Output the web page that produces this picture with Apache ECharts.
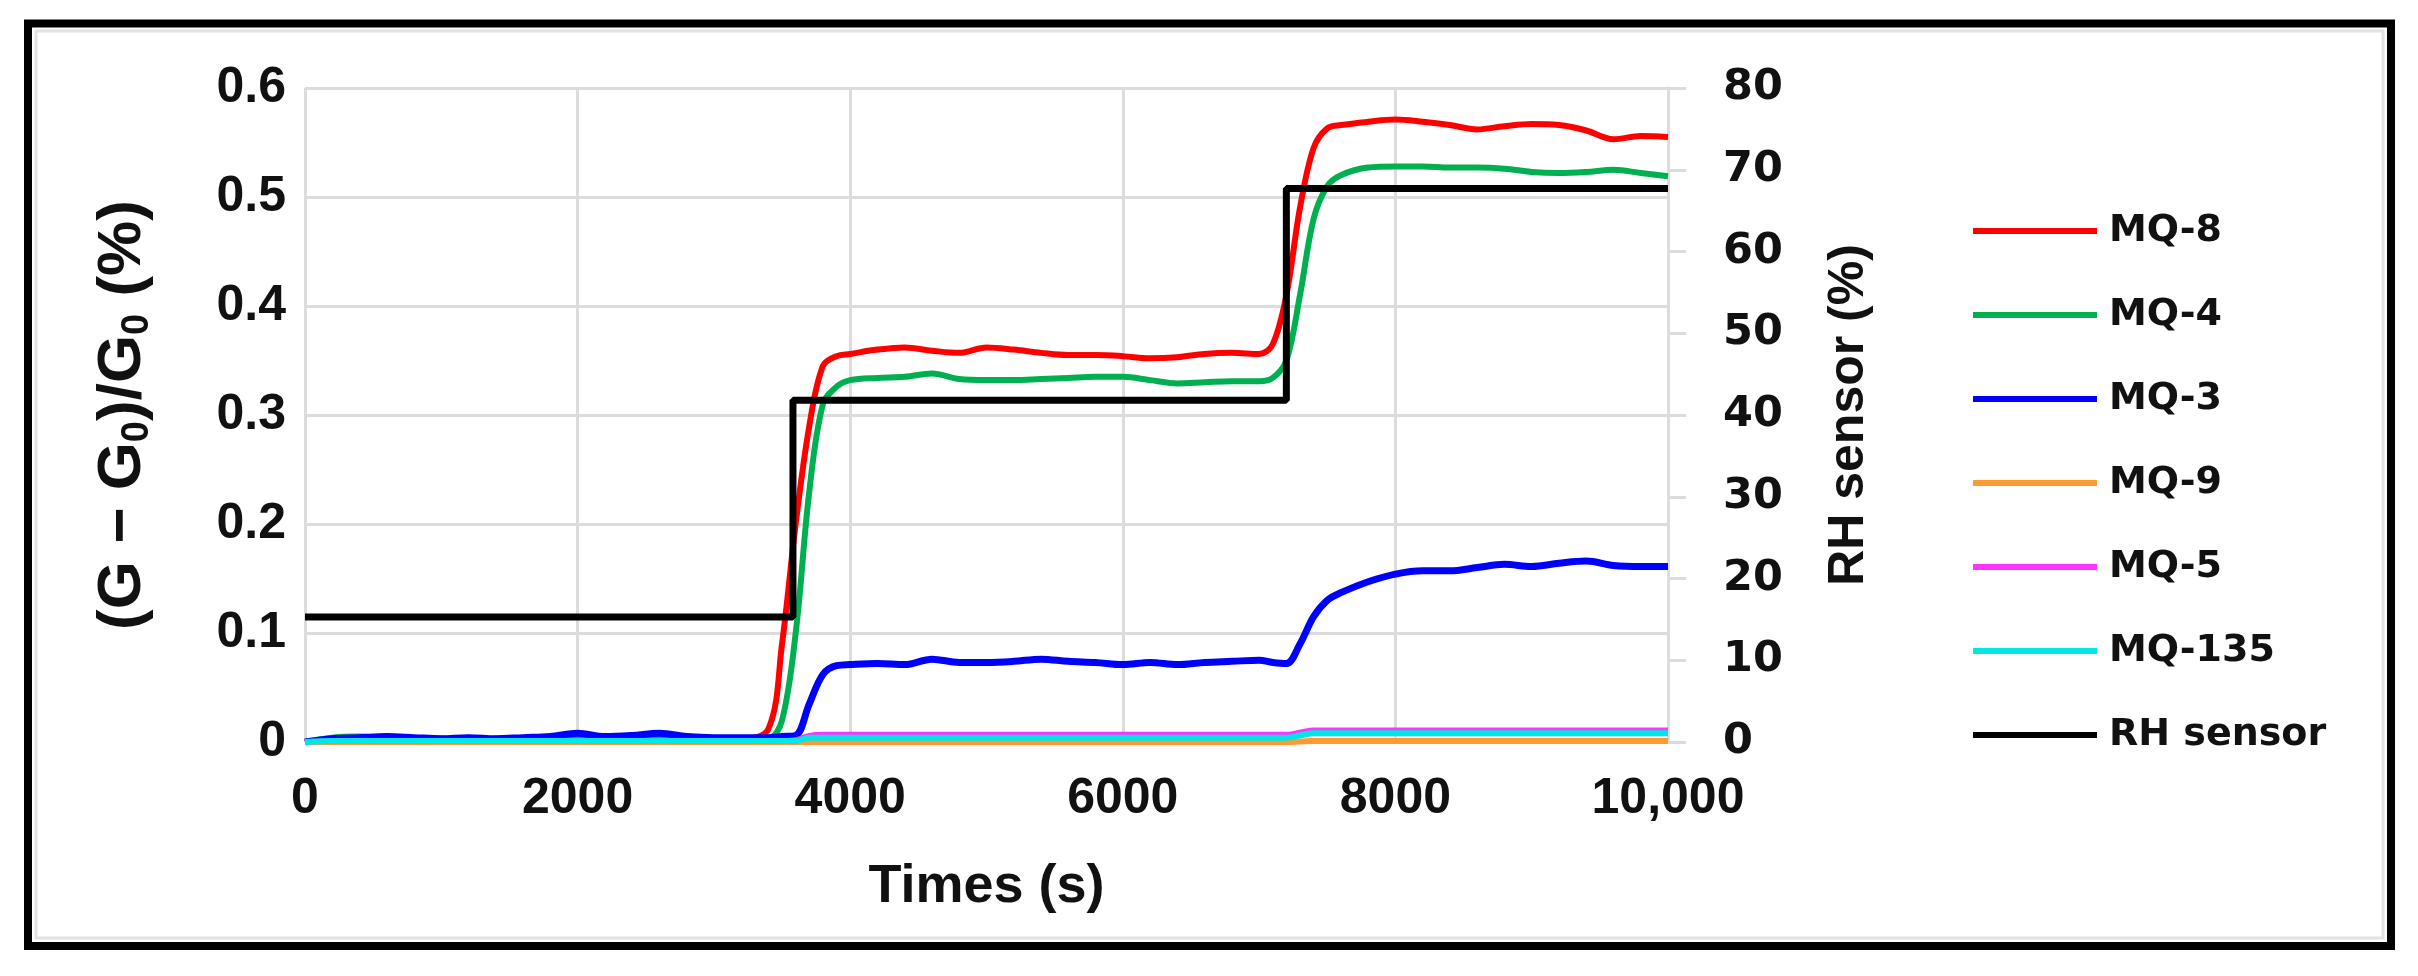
<!DOCTYPE html>
<html>
<head>
<meta charset="utf-8">
<script src="https://cdn.jsdelivr.net/npm/echarts@6/dist/echarts.min.js"></script>
<style>
html,body{margin:0;padding:0;background:#fff;}
#chart{width:2418px;height:976px;}
</style>
</head>
<body>
<div id="chart"></div>
<script>
// Time samples (s)
const times = [0,200,400,600,800,1000,1200,1400,1600,1800,2000,2200,2400,2600,2800,3000,3200,3400,3500,3600,3700,3800,3900,4000,4200,4400,4600,4800,5000,5200,5400,5600,5800,6000,6200,6400,6600,6800,7000,7100,7200,7300,7400,7500,7600,7800,8000,8200,8400,8600,8800,9000,9200,9400,9600,9800,10000];

const mq8 = [0,0.003,0.004,0.003,0.002,0.003,0.002,0.003,0.003,0.004,0.006,0.004,0.004,0.006,0.004,0.003,0.003,0.012,0.09,0.2,0.29,0.345,0.354,0.356,0.36,0.362,0.359,0.357,0.362,0.36,0.357,0.355,0.355,0.354,0.352,0.353,0.356,0.357,0.356,0.365,0.41,0.49,0.545,0.563,0.566,0.569,0.571,0.569,0.566,0.562,0.565,0.567,0.566,0.561,0.553,0.556,0.555];
const mq4 = [0,0.004,0.005,0.003,0.002,0.003,0.003,0.002,0.003,0.003,0.004,0.003,0.003,0.004,0.003,0.002,0.002,0.003,0.02,0.1,0.23,0.31,0.326,0.332,0.334,0.335,0.338,0.333,0.332,0.332,0.333,0.334,0.335,0.335,0.332,0.329,0.33,0.331,0.331,0.334,0.35,0.41,0.48,0.51,0.52,0.527,0.528,0.528,0.527,0.527,0.526,0.523,0.522,0.523,0.525,0.522,0.519];
const mq3 = [0,0.003,0.004,0.005,0.004,0.003,0.004,0.003,0.004,0.005,0.008,0.005,0.006,0.008,0.005,0.004,0.004,0.004,0.005,0.006,0.035,0.062,0.07,0.071,0.072,0.071,0.076,0.073,0.073,0.074,0.076,0.074,0.073,0.071,0.073,0.071,0.073,0.074,0.075,0.073,0.072,0.09,0.115,0.13,0.137,0.147,0.154,0.157,0.157,0.16,0.163,0.161,0.164,0.166,0.162,0.161,0.161];
const mq9 = [0,0,0,0,0,0,0,0,0,0,0,0,0,0,0,0,0,0,0,0,0,0,0,0,0,0,0,0,0,0,0,0,0,0,0,0,0,0,0,0,0,0.0005,0.001,0.001,0.001,0.001,0.001,0.001,0.001,0.001,0.001,0.001,0.001,0.001,0.001,0.001,0.001];
const mq5 = [0,0.001,0.001,0.001,0.001,0.001,0.001,0.001,0.001,0.001,0.001,0.001,0.001,0.001,0.001,0.001,0.001,0.001,0.001,0.002,0.006,0.007,0.007,0.007,0.007,0.007,0.007,0.007,0.007,0.007,0.007,0.007,0.007,0.007,0.007,0.007,0.007,0.007,0.007,0.007,0.007,0.009,0.011,0.011,0.011,0.011,0.011,0.011,0.011,0.011,0.011,0.011,0.011,0.011,0.011,0.011,0.011];
const mq135 = [0,0.001,0.001,0.001,0.001,0.001,0.001,0.001,0.001,0.001,0.001,0.001,0.001,0.001,0.001,0.001,0.001,0.001,0.001,0.001,0.004,0.004,0.004,0.004,0.004,0.004,0.004,0.004,0.004,0.004,0.004,0.004,0.004,0.004,0.004,0.004,0.004,0.004,0.004,0.004,0.004,0.006,0.008,0.008,0.008,0.008,0.008,0.008,0.008,0.008,0.008,0.008,0.008,0.008,0.008,0.008,0.008];

// RH sensor (step) on right axis
const rhTimes = [0,3580,3580,7200,7200,10000];
const rhValues = [15.3,15.3,41.8,41.8,67.7,67.7];

const seriesNames = ['MQ-8','MQ-4','MQ-3','MQ-9','MQ-5','MQ-135','RH sensor'];
const seriesColors = ['#ff0000','#00b050','#0000ff','#ff9a33','#ff33ff','#00e5e5','#000000'];
const seriesValues = [mq8,mq4,mq3,mq9,mq5,mq135];
const seriesWidths = [6,6,7,6,5,6];

const pairs = (xs, ys) => xs.map((x,i)=>[x, ys[i]]);

const series = seriesValues.map((vals,i)=>({
  name: seriesNames[i],
  type: 'line',
  data: pairs(times, vals),
  showSymbol: false,
  smooth: 0.35,
  lineStyle: {color: seriesColors[i], width: seriesWidths[i]},
  itemStyle: {color: seriesColors[i]},
  z: 3
}));
series.push({
  name: 'RH sensor',
  type: 'line',
  yAxisIndex: 1,
  data: pairs(rhTimes, rhValues),
  showSymbol: false,
  lineStyle: {color: '#000', width: 7},
  itemStyle: {color: '#000'},
  z: 4
});

const gridColor = '#dcdcdc';
const chart = echarts.init(document.getElementById('chart'), null, {renderer:'canvas'});
chart.setOption({
  backgroundColor: '#ffffff',
  animation: false,
  grid: {left: 305, right: 750, top: 88, bottom: 234, containLabel: false},
  graphic: [
    {type:'rect', shape:{x:28, y:23.5, width:2363, height:922.5}, style:{fill:'none', stroke:'#000', lineWidth:8}, z:100},
    {type:'rect', shape:{x:36, y:31, width:2347, height:907}, style:{fill:'none', stroke:'#e2e2e2', lineWidth:3}, z:99}
  ],
  legend: {
    orient: 'vertical',
    left: 1973,
    top: 211,
    padding: 0,
    itemWidth: 124,
    itemHeight: 6,
    itemGap: 44,
    icon: 'rect',
    data: seriesNames,
    textStyle: {fontFamily: 'DejaVu Sans', fontWeight: 'bold', fontSize: 38, lineHeight: 40, color: '#111', padding: [0,0,0,7]}
  },
  xAxis: {
    type: 'value',
    min: 0, max: 10000, interval: 2000,
    name: 'Times (s)',
    nameLocation: 'middle',
    nameGap: 118,
    nameTextStyle: {fontFamily: 'Liberation Sans', fontWeight: 'bold', fontSize: 54, color: '#111'},
    axisLine: {show: false},
    axisTick: {show: false},
    axisLabel: {
      margin: 32, fontFamily: 'Liberation Sans', fontWeight: 'bold', fontSize: 50, color: '#111',
      formatter: v => v === 10000 ? '10,000' : String(v)
    },
    splitLine: {show: true, lineStyle: {color: gridColor, width: 3}}
  },
  yAxis: [
    {
      type: 'value',
      min: 0, max: 0.6, interval: 0.1,
      name: '(G − G{sub|0})/G{sub|0} (%)',
      nameLocation: 'middle',
      nameGap: 148,
      nameRotate: 90,
      nameTextStyle: {
        fontFamily: 'Liberation Sans', fontWeight: 'bold', fontSize: 62, color: '#111', lineHeight: 68,
        rich: {sub: {fontFamily: 'Liberation Sans', fontWeight: 'bold', fontSize: 38, lineHeight: 38, verticalAlign: 'bottom', color: '#111'}}
      },
      axisLine: {show: false},
      axisTick: {show: false},
      axisLabel: {
        margin: 19, fontFamily: 'Liberation Sans', fontWeight: 'bold', fontSize: 50, color: '#111',
        formatter: v => v === 0 ? '0' : v.toFixed(1)
      },
      splitLine: {show: true, lineStyle: {color: gridColor, width: 3}}
    },
    {
      type: 'value',
      position: 'right',
      min: 0, max: 80, interval: 10,
      name: 'RH sensor (%)',
      nameLocation: 'middle',
      nameGap: 156,
      nameRotate: 90,
      nameTextStyle: {fontFamily: 'Liberation Sans', fontWeight: 'bold', fontSize: 50, color: '#111'},
      axisLine: {show: true, lineStyle: {color: gridColor, width: 3}},
      axisTick: {show: true, inside: false, length: 18, lineStyle: {color: gridColor, width: 3}},
      axisLabel: {margin: 55, fontFamily: 'DejaVu Sans', fontWeight: 'bold', fontSize: 43, color: '#111'},
      splitLine: {show: false}
    }
  ],
  series: series
});
</script>
</body>
</html>
